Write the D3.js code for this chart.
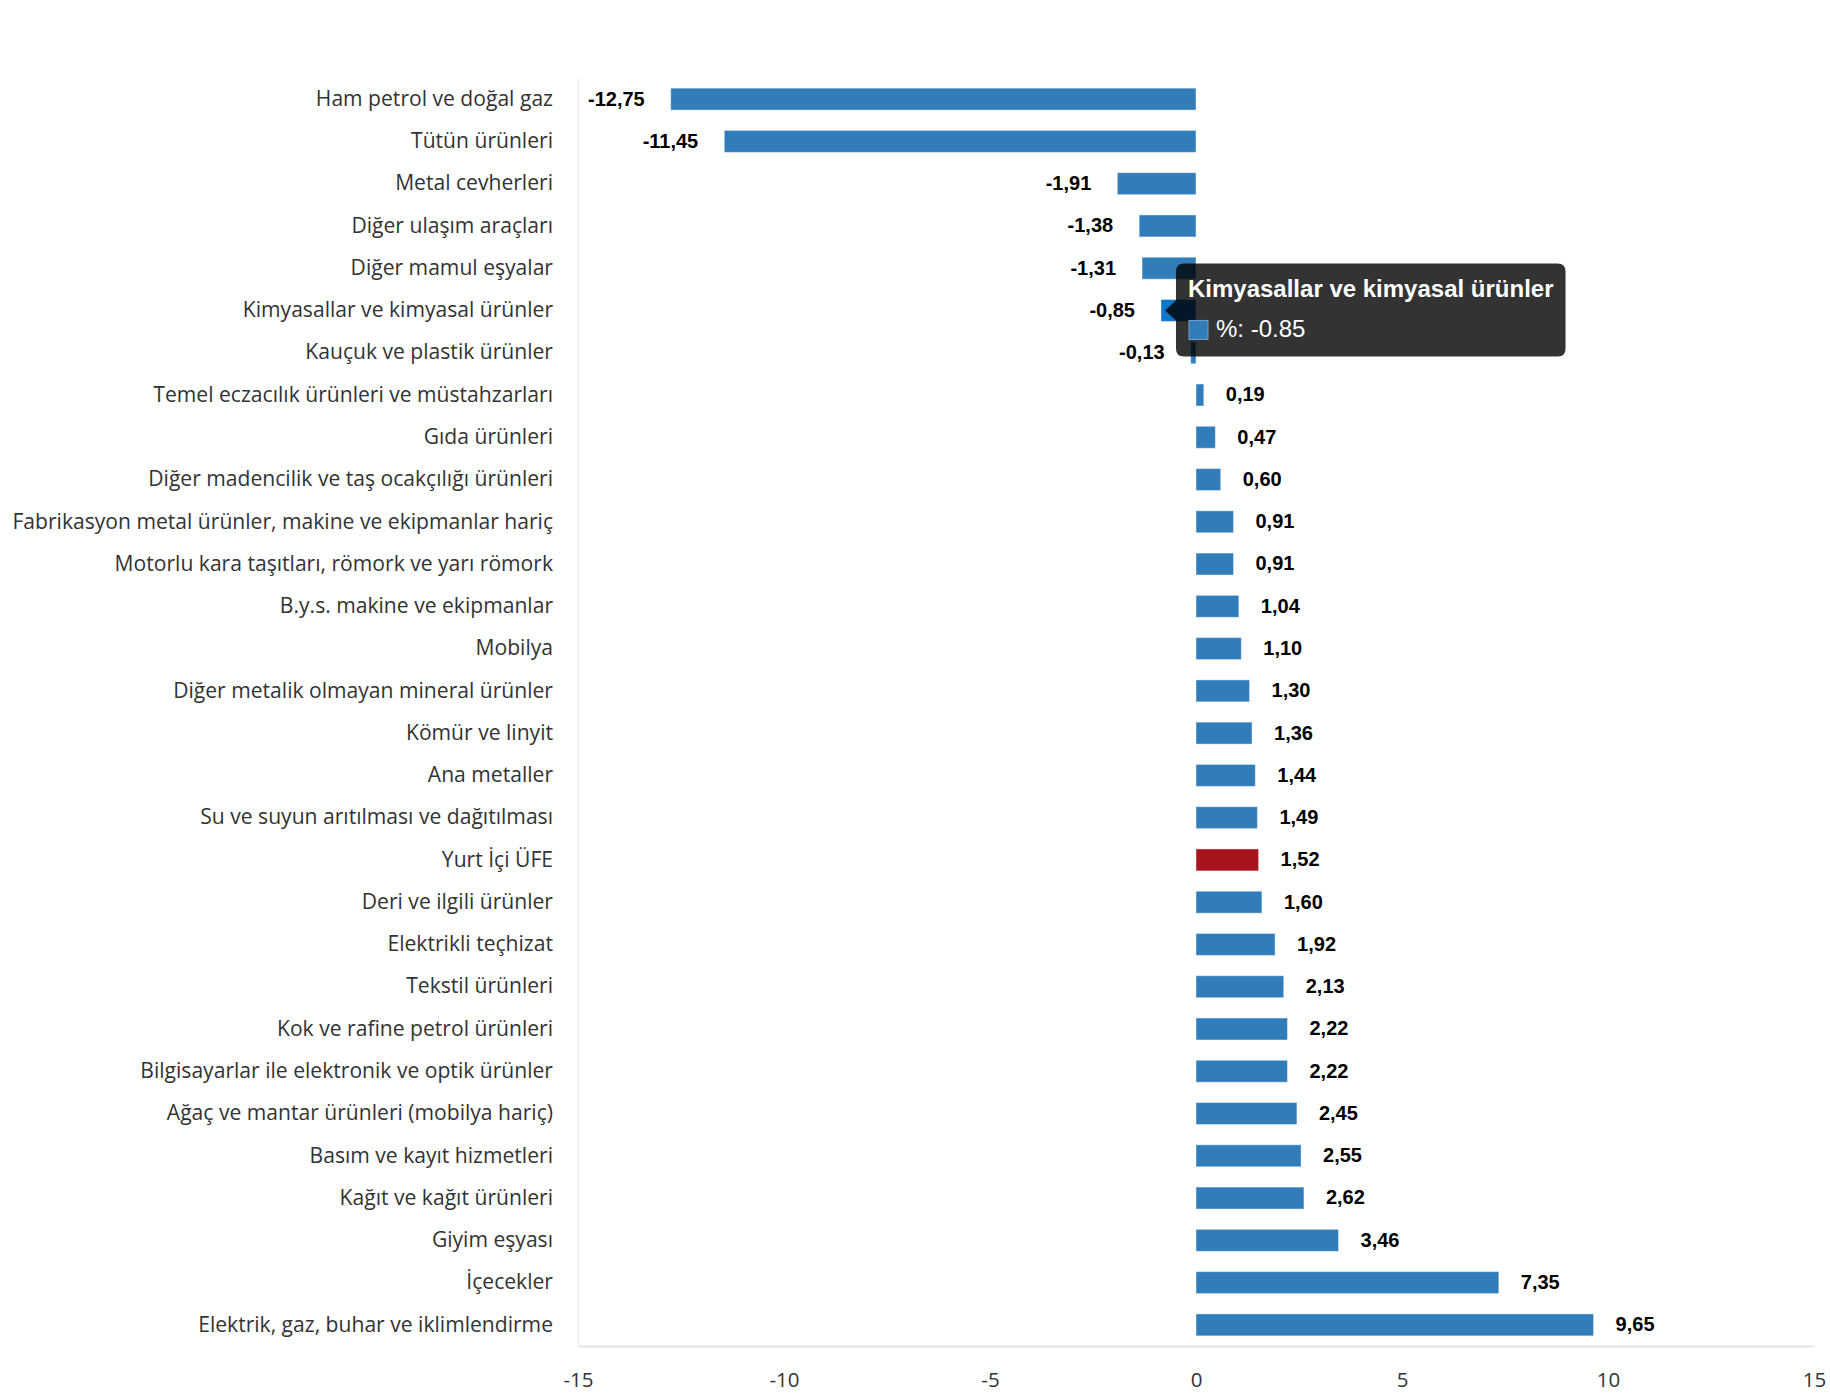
<!DOCTYPE html>
<html>
<head>
<meta charset="utf-8">
<script src="https://cdn.jsdelivr.net/npm/d3@7"></script>
<style>
  body { margin: 0; background: #fff; }
  svg { display: block; }
</style>
</head>
<body>
<div id="chart"></div>
<script>
// Categories, top to bottom
const categories = [
    "Ham petrol ve doğal gaz",
    "Tütün ürünleri",
    "Metal cevherleri",
    "Diğer ulaşım araçları",
    "Diğer mamul eşyalar",
    "Kimyasallar ve kimyasal ürünler",
    "Kauçuk ve plastik ürünler",
    "Temel eczacılık ürünleri ve müstahzarları",
    "Gıda ürünleri",
    "Diğer madencilik ve taş ocakçılığı ürünleri",
    "Fabrikasyon metal ürünler, makine ve ekipmanlar hariç",
    "Motorlu kara taşıtları, römork ve yarı römork",
    "B.y.s. makine ve ekipmanlar",
    "Mobilya",
    "Diğer metalik olmayan mineral ürünler",
    "Kömür ve linyit",
    "Ana metaller",
    "Su ve suyun arıtılması ve dağıtılması",
    "Yurt İçi ÜFE",
    "Deri ve ilgili ürünler",
    "Elektrikli teçhizat",
    "Tekstil ürünleri",
    "Kok ve rafine petrol ürünleri",
    "Bilgisayarlar ile elektronik ve optik ürünler",
    "Ağaç ve mantar ürünleri (mobilya hariç)",
    "Basım ve kayıt hizmetleri",
    "Kağıt ve kağıt ürünleri",
    "Giyim eşyası",
    "İçecekler",
    "Elektrik, gaz, buhar ve iklimlendirme"
];

// Monthly change, %
const values = [
    -12.75, -11.45, -1.91, -1.38, -1.31, -0.85, -0.13,
    0.19, 0.47, 0.60, 0.91, 0.91, 1.04, 1.10, 1.30, 1.36, 1.44, 1.49,
    1.52, 1.60, 1.92, 2.13, 2.22, 2.22, 2.45, 2.55, 2.62, 3.46, 7.35, 9.65
];

const xTicks = [-15, -10, -5, 0, 5, 10, 15];
const xDomain = [-15, 15];

const highlightCategory = "Yurt İçi ÜFE";
const hoveredCategory   = "Kimyasallar ve kimyasal ürünler";
const seriesName        = "%";

const data = categories.map((c, i) => ({ name: c, value: values[i] }));

const width  = 1830;
const height = 1400;
const margin = { top: 78, right: 16, bottom: 54, left: 578 };
const innerW = width  - margin.left - margin.right;
const innerH = height - margin.top  - margin.bottom;

const barColor   = "#317dba";
const redColor   = "#a8141b";
const hoverColor = "#0f76c9";
const labelFont  = "'Open Sans', 'Noto Sans', sans-serif";
const valueFont  = "'Liberation Sans', Arial, sans-serif";

const svg = d3.select("#chart")
    .append("svg")
    .attr("width", width)
    .attr("height", height);

const g = svg.append("g")
    .attr("transform", `translate(${margin.left},${margin.top})`);

const x = d3.scaleLinear().domain(xDomain).range([0, innerW]);
const y = d3.scaleBand()
    .domain(categories)
    .range([0, innerH])
    .paddingInner(0.48)
    .paddingOuter(0.24);

// Category axis (left)
const yAxis = g.append("g")
    .call(d3.axisLeft(y).tickSize(0).tickPadding(25));
yAxis.select(".domain").attr("stroke", "#e6e9f0").attr("stroke-width", 1.5);
yAxis.selectAll("text")
    .attr("fill", "#333")
    .style("font-family", labelFont)
    .style("font-size", "21.1px");

// Value axis (bottom)
const xAxis = g.append("g")
    .attr("transform", `translate(0,${innerH})`)
    .call(d3.axisBottom(x).tickValues(xTicks).tickSize(0).tickPadding(26)
        .tickFormat(d => d3.format("d")(d).replace("−", "-")));
xAxis.select(".domain").attr("stroke", "#e4e4e4").attr("stroke-width", 2);
xAxis.selectAll("text")
    .attr("fill", "#333")
    .style("font-family", labelFont)
    .style("font-size", "20.5px");

// Bars
g.selectAll(".bar")
    .data(data).enter()
    .append("rect").attr("class", "bar")
    .attr("x", d => x(Math.min(0, d.value)))
    .attr("y", d => y(d.name))
    .attr("width", d => Math.abs(x(d.value) - x(0)))
    .attr("height", y.bandwidth())
    .attr("fill", d => d.name === highlightCategory ? redColor
                     : d.name === hoveredCategory ? hoverColor : barColor)
    .attr("stroke", "#ffffff")
    .attr("stroke-opacity", 0.45)
    .attr("stroke-width", 1);

// Value labels
const fmt = v => d3.format(".2f")(v).replace("−", "-").replace(".", ",");
g.selectAll(".val")
    .data(data).enter()
    .append("text").attr("class", "val")
    .attr("x", d => d.value >= 0 ? x(d.value) + 22 : x(d.value) - 26)
    .attr("y", d => y(d.name) + y.bandwidth() / 2)
    .attr("dy", "0.32em")
    .attr("text-anchor", d => d.value >= 0 ? "start" : "end")
    .attr("fill", "#000")
    .style("font-family", valueFont)
    .style("font-weight", "bold")
    .style("font-size", "20px")
    .text(d => fmt(d.value));

// Tooltip for the hovered point
const hov = data.find(d => d.name === hoveredCategory);
const tipX = x(hov.value) + 4;
const tipY = y(hov.name) + y.bandwidth() / 2;
const tip = g.append("g").attr("class", "tooltip");
const tipBg = tip.append("path");
const boxL = tipX + 11;
const title = tip.append("text")
    .attr("x", boxL + 12)
    .attr("y", tipY - 13)
    .attr("fill", "#fff")
    .style("font-family", valueFont)
    .style("font-weight", "bold")
    .style("font-size", "24px")
    .text(hov.name);
tip.append("rect")
    .attr("x", boxL + 13)
    .attr("y", tipY + 10)
    .attr("width", 19).attr("height", 19)
    .attr("fill", barColor)
    .attr("stroke", "#6fa3d2").attr("stroke-width", 1);
tip.append("text")
    .attr("x", boxL + 40)
    .attr("y", tipY + 27)
    .attr("fill", "#fff")
    .style("font-family", valueFont)
    .style("font-size", "24px")
    .text(`${seriesName}: ${hov.value}`);

const tw = title.node().getComputedTextLength();
const boxR = boxL + 12 + tw + 12;
const boxT = tipY - 47, boxB = tipY + 46, r = 8;
const p = d3.path();
p.moveTo(boxL + r, boxT);
p.lineTo(boxR - r, boxT);
p.quadraticCurveTo(boxR, boxT, boxR, boxT + r);
p.lineTo(boxR, boxB - r);
p.quadraticCurveTo(boxR, boxB, boxR - r, boxB);
p.lineTo(boxL + r, boxB);
p.quadraticCurveTo(boxL, boxB, boxL, boxB - r);
p.lineTo(boxL, tipY + 10);
p.lineTo(tipX, tipY);
p.lineTo(boxL, tipY - 10);
p.lineTo(boxL, boxT + r);
p.quadraticCurveTo(boxL, boxT, boxL + r, boxT);
p.closePath();
tipBg.attr("d", p.toString()).attr("fill", "rgba(0,0,0,0.8)");
</script>
</body>
</html>
